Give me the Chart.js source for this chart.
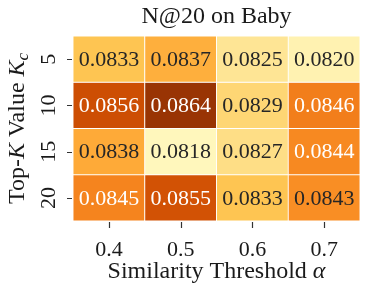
<!DOCTYPE html>
<html>
<head>
<meta charset="utf-8">
<script src="https://cdn.jsdelivr.net/npm/chart.js@4"></script>
<style>
  html, body { margin: 0; padding: 0; background: #fff; }
  #wrap { width: 367px; height: 294px; }
</style>
</head>
<body>
<div id="wrap"><canvas id="heat"></canvas></div>
<script>
// data
const alphas = ["0.4", "0.5", "0.6", "0.7"];
const topKs = ["5", "10", "15", "20"];
const row5 = [0.0833, 0.0837, 0.0825, 0.0820];
const row10 = [0.0856, 0.0864, 0.0829, 0.0846];
const row15 = [0.0838, 0.0818, 0.0827, 0.0844];
const row20 = [0.0845, 0.0855, 0.0833, 0.0843];
const rows = [row5, row10, row15, row20];

const SERIF = "'Liberation Serif', 'DejaVu Serif', serif";

// YlOrBr colormap
const ylorbr = ["#ffffe5", "#fff7bc", "#fee391", "#fec44f", "#fe9929", "#ec7014", "#cc4c02", "#993404", "#662506"];
const hex = h => [1, 3, 5].map(i => parseInt(h.substr(i, 2), 16));
const all = rows.flat();
const vmin = Math.min(...all), vmax = Math.max(...all);

function cmap(v) {
  const t = 0.125 + 0.75 * (v - vmin) / (vmax - vmin);
  const p = t * (ylorbr.length - 1);
  const i = Math.min(Math.floor(p), ylorbr.length - 2);
  const f = p - i;
  const a = hex(ylorbr[i]), b = hex(ylorbr[i + 1]);
  return a.map((c, k) => Math.round(c + (b[k] - c) * f));
}
const rgb = c => `rgb(${c[0]},${c[1]},${c[2]})`;
const isDark = c => (0.299 * c[0] + 0.587 * c[1] + 0.114 * c[2]) / 255 < 0.62;

const datasets = rows.map((vals, r) => ({
  label: topKs[r],
  data: vals.map(() => [r, r + 1]),
  values: vals,
  backgroundColor: vals.map(v => rgb(cmap(v))),
  borderColor: "#ffffff",
  borderWidth: 0.8,
  borderSkipped: false,
  grouped: false,
  barPercentage: 1,
  categoryPercentage: 1
}));

function drawRich(ctx, parts, cx, cy) {
  let total = 0;
  parts.forEach(p => { ctx.font = p.font; p.w = ctx.measureText(p.text).width; total += p.w; });
  let x = cx - total / 2;
  parts.forEach(p => {
    ctx.font = p.font;
    ctx.fillText(p.text, x, cy + (p.dy || 0));
    x += p.w;
  });
}

const extras = {
  id: "extras",
  afterDatasetsDraw(chart) {
    const ctx = chart.ctx;
    ctx.save();
    ctx.textAlign = "center";
    ctx.textBaseline = "middle";
    ctx.font = `22px ${SERIF}`;
    chart.data.datasets.forEach((ds, d) => {
      chart.getDatasetMeta(d).data.forEach((bar, i) => {
        const v = ds.values[i];
        ctx.fillStyle = isDark(cmap(v)) ? "#ffffff" : "#262626";
        ctx.fillText(v.toFixed(4), bar.x, (bar.y + bar.base) / 2 + 1);
      });
    });
    ctx.restore();
  },
  afterDraw(chart) {
    const ctx = chart.ctx;
    const area = chart.chartArea;
    const xScale = chart.scales.x;
    const yScale = chart.scales.y;
    const cx = (area.left + area.right) / 2;
    ctx.save();

    // tick marks
    ctx.strokeStyle = "#333";
    ctx.lineWidth = 1.2;
    ctx.beginPath();
    yScale.ticks.forEach(t => {
      const y = Math.round(yScale.getPixelForValue(t.value)) + 0.5;
      ctx.moveTo(area.left - 6, y);
      ctx.lineTo(area.left - 1, y);
    });
    alphas.forEach((_, i) => {
      const x = Math.round(xScale.getPixelForValue(i)) + 0.5;
      ctx.moveTo(x, area.bottom + 1);
      ctx.lineTo(x, area.bottom + 7);
    });
    ctx.stroke();

    ctx.fillStyle = "#1a1a1a";
    // rotated y tick labels
    ctx.font = `22px ${SERIF}`;
    ctx.textAlign = "center";
    ctx.textBaseline = "alphabetic";
    yScale.ticks.forEach((t, i) => {
      ctx.save();
      ctx.translate(yScale.right - 18, yScale.getPixelForValue(t.value));
      ctx.rotate(-Math.PI / 2);
      ctx.fillText(topKs[i], 0, 0);
      ctx.restore();
    });

    ctx.textAlign = "left";
    ctx.textBaseline = "middle";
    drawRich(ctx, [{ text: "N@20 on Baby", font: `24px ${SERIF}` }], cx, 17);
    drawRich(ctx, [
      { text: "Similarity Threshold ", font: `24px ${SERIF}` },
      { text: "α", font: `italic 24px ${SERIF}` }
    ], cx, 272);
    ctx.translate(18, (area.top + area.bottom) / 2);
    ctx.rotate(-Math.PI / 2);
    drawRich(ctx, [
      { text: "Top-", font: `24px ${SERIF}` },
      { text: "K", font: `italic 24px ${SERIF}` },
      { text: " Value ", font: `24px ${SERIF}` },
      { text: "K", font: `italic 24px ${SERIF}` },
      { text: "c", font: `italic 17px ${SERIF}`, dy: 6 }
    ], 0, 0);
    ctx.restore();
  }
};

new Chart(document.getElementById("heat"), {
  type: "bar",
  data: { labels: alphas, datasets },
  options: {
    responsive: true,
    maintainAspectRatio: false,
    animation: false,
    layout: { padding: { top: 36, right: 7, left: 0, bottom: 0 } },
    plugins: { legend: { display: false }, tooltip: { enabled: false } },
    scales: {
      x: {
        type: "category",
        offset: true,
        border: { display: false },
        grid: { display: false },
        ticks: { color: "#1a1a1a", font: { family: SERIF, size: 22 }, padding: 8 },
        afterFit: s => { s.height = 73; }
      },
      y: {
        type: "linear",
        min: 0,
        max: 4,
        reverse: true,
        border: { display: false },
        grid: { display: false },
        afterBuildTicks: s => { s.ticks = topKs.map((_, i) => ({ value: i + 0.5 })); },
        ticks: { display: false },
        afterFit: s => { s.width = 73; }
      }
    }
  },
  plugins: [extras]
});
</script>
</body>
</html>
